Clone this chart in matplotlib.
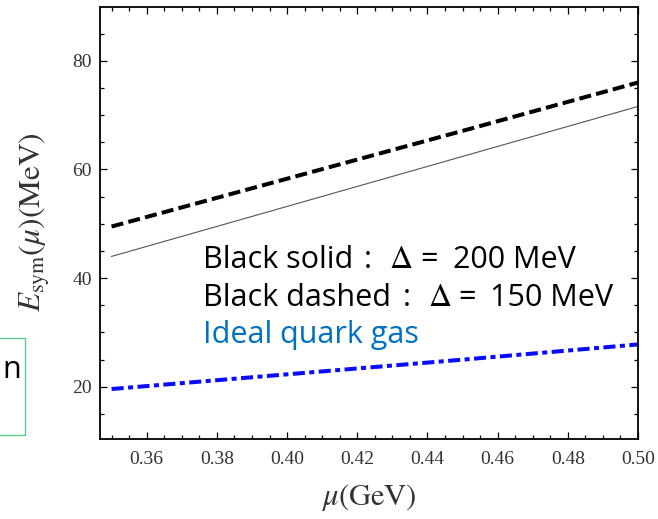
import matplotlib.pyplot as plt
from matplotlib.patches import Rectangle
from matplotlib.ticker import MultipleLocator

plt.rcParams['mathtext.fontset'] = 'stix'

# chemical potential (GeV) and symmetry energy (MeV)
mu = [0.35, 0.40, 0.45, 0.50]
esym_150 = [49.5, 58.3, 67.1, 76.0]   # black dashed, Delta = 150 MeV
esym_200 = [44.0, 53.2, 62.4, 71.6]   # black solid, Delta = 200 MeV
esym_ideal = [19.6, 22.3, 25.0, 27.8]  # ideal quark gas

xticks = [0.36, 0.38, 0.40, 0.42, 0.44, 0.46, 0.48, 0.50]
yticks = [20, 40, 60, 80]

W, H = 658, 519
fig = plt.figure(figsize=(W / 100, H / 100), dpi=100)
ax = fig.add_axes([100/W, 80/H, 538/W, 432/H])

ax.plot(mu, esym_150, color='black', lw=2.9, dashes=(3.0, 1.3))
ax.plot(mu, esym_200, color='#555555', lw=0.8)
ax.plot(mu, esym_ideal, color='#0a0aff', lw=2.9, dashes=(3.0, 1.1, 1.25, 1.1))

ax.set_xlim(0.3467, 0.5)
ax.set_ylim(10.4, 89.9)
ax.set_xticks(xticks)
ax.set_xticklabels([f"{t:.2f}" for t in xticks])
ax.set_yticks(yticks)
ax.xaxis.set_minor_locator(MultipleLocator(0.005))
ax.yaxis.set_minor_locator(MultipleLocator(5))
ax.tick_params(which='both', direction='in', top=True, right=True, width=0.9)
ax.tick_params(which='major', length=5, labelsize=14, labelcolor='#333333')
ax.tick_params(axis='x', which='major', pad=9)
ax.tick_params(axis='y', which='major', pad=6)
ax.tick_params(which='minor', length=3)
for lab in ax.get_xticklabels() + ax.get_yticklabels():
    lab.set_family('Liberation Serif')
for s in ax.spines.values():
    s.set_linewidth(1.3)

ax.set_xlabel(r"$\mu(\mathrm{GeV})$", fontsize=22, color='#333333')
ax.xaxis.set_label_coords(0.5, -0.1)
ax.set_ylabel(r"$E_{\mathrm{sym}}(\mu)(\mathrm{MeV})$", fontsize=22.5, color='#333333')
ax.yaxis.set_label_coords(-0.09, 0.503)


def put(x, y, s, color='black', size=22, **kw):
    fig.text(x / W, 1 - y / H, s, fontsize=size, color=color,
             family=['Open Sans', 'DejaVu Sans'], **kw)


# pasted annotation text (pixel positions of each piece)
put(203, 268, "Black solid")
put(364, 268, ":")
put(389, 268, r"$\Delta$", size=23)
put(420, 268, "=")
put(453, 268, "200 MeV")
put(203, 306, "Black dashed")
put(403, 306, ":")
put(428, 306, r"$\Delta$", size=23)
put(458, 306, "=")
put(490, 306, "150 MeV")
put(203, 343, "Ideal quark gas", color='#0070c0')

# partly visible note box at the left edge
fig.patches.append(Rectangle((-20/W, 1 - 435/H), 45/W, 97/H, transform=fig.transFigure,
                             fill=False, edgecolor='#5cc98a', lw=1.0))
put(21, 378, "n", ha='right')

fig.savefig('out.png', dpi=100)
